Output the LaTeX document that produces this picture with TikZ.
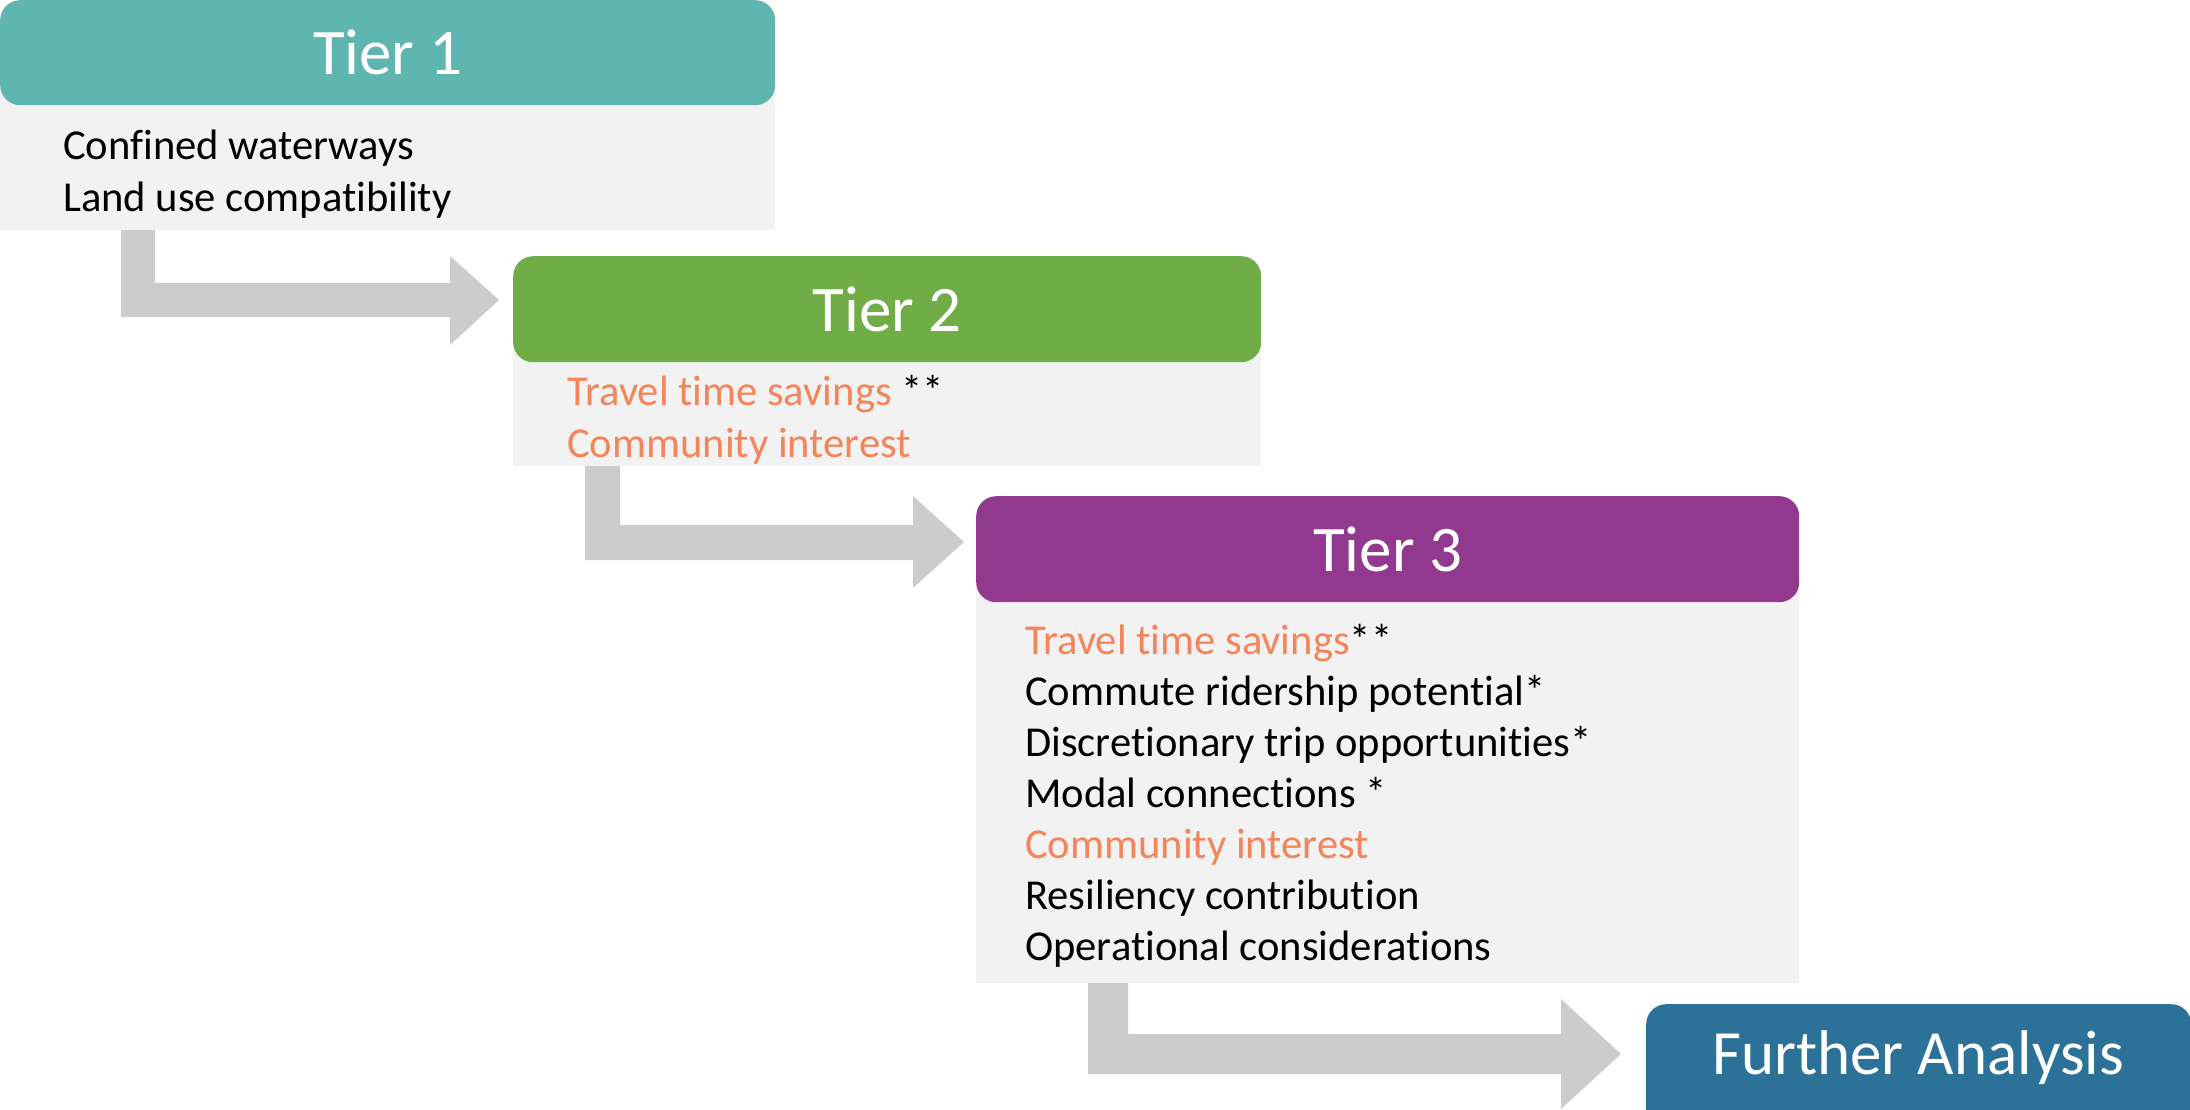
\documentclass[tikz,border=0pt]{standalone}
\usepackage{fontspec}
\setmainfont[Ligatures=NoCommon]{Carlito}
\definecolor{tealc}{HTML}{5FB6B1}
\definecolor{greenc}{HTML}{70AD47}
\definecolor{purplec}{HTML}{90398E}
\definecolor{bluec}{HTML}{2C7298}
\definecolor{bodyc}{HTML}{F2F2F2}
\definecolor{arrowc}{HTML}{CCCCCC}
\definecolor{orangec}{HTML}{F4845A}
\begin{document}
\begin{tikzpicture}[x=1pt,y=-1pt,
  header/.style={rounded corners=20pt, anchor=north west, inner sep=0pt, text=white, font=\fontsize{65}{78}\selectfont},
  bodybox/.style={fill=bodyc, anchor=north west, inner sep=0pt},
  item/.style={anchor=base west, inner sep=0pt, font=\fontsize{42.6}{52}\selectfont},
  flow/.style={fill=arrowc}]
\useasboundingbox (0,0) rectangle (2190,1109);
\clip (0,0) rectangle (2190,1109);
% bodies
\node[bodybox, minimum width=775pt, minimum height=150pt] (b1) at (0,80) {};
\node[bodybox, minimum width=748pt, minimum height=130pt] (b2) at (513,336) {};
\node[bodybox, minimum width=823pt, minimum height=411pt] (b3) at (976,572) {};
% headers
\node[header, fill=tealc, minimum width=775pt, minimum height=105pt] (h1) at (0,0) {Tier 1};
\node[header, fill=greenc, minimum width=748pt, minimum height=106pt] (h2) at (513,256) {Tier 2};
\node[header, fill=purplec, minimum width=823pt, minimum height=106pt] (h3) at (976,496) {Tier 3};
\node[header, fill=bluec, minimum width=545pt, minimum height=140pt, text depth=0pt] (h4) at (1646,1004) {};
\node[text=white, font=\fontsize{63}{76}\selectfont, inner sep=0pt] (h4t) at (1918,1058) {Further Analysis};
% texts
\node[item] (t1a) at (63,159) {Confined waterways};
\node[item] (t1b) at (63,211) {Land use compatibility};
\node[item] (t2a) at (567,405) {\textcolor{orangec}{Travel time savings} **};
\node[item] (t2b) at (567,457) {\textcolor{orangec}{Community interest}};
\node[item] (t3a) at (1025,654) {\textcolor{orangec}{Travel time savings}**};
\node[item] (t3b) at (1025,705) {Commute ridership potential*};
\node[item] (t3c) at (1025,756) {Discretionary trip opportunities*};
\node[item] (t3d) at (1025,807) {Modal connections *};
\node[item] (t3e) at (1025,858) {\textcolor{orangec}{Community interest}};
\node[item] (t3f) at (1025,909) {Resiliency contribution};
\node[item] (t3g) at (1025,960) {Operational considerations};
% flow arrows
\fill[flow] (121,230) -- (155,230) -- (155,283) -- (450,283) -- (450,256) -- (499,300) -- (450,345) -- (450,317) -- (121,317) -- cycle;
\fill[flow] (585,466) -- (620,466) -- (620,525) -- (913,525) -- (913,496) -- (964,542) -- (913,588) -- (913,560) -- (585,560) -- cycle;
\fill[flow] (1088,983) -- (1128,983) -- (1128,1034) -- (1561,1034) -- (1561,999) -- (1621,1054) -- (1561,1109) -- (1561,1074) -- (1088,1074) -- cycle;
\end{tikzpicture}
\end{document}
